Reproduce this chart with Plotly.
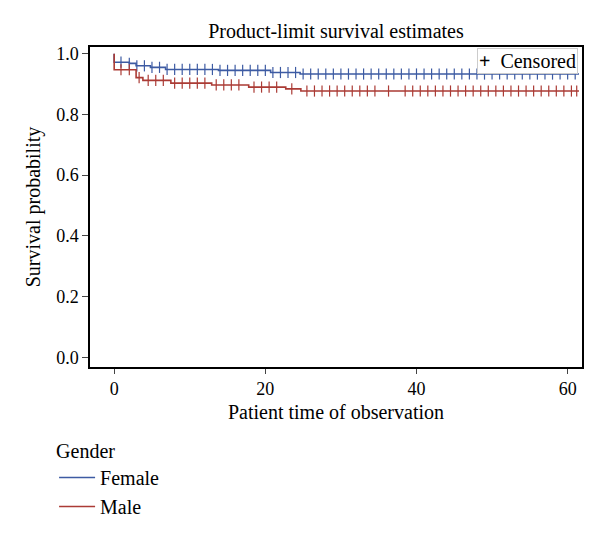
import plotly.graph_objects as go

# Kaplan-Meier step data (time, survival)
female_times = [0, 0, 2.0, 2.9, 4.8, 6.8, 13.8, 20.7, 24.6, 61.5]
female_surv = [1.0, 0.972, 0.968, 0.960, 0.955, 0.948, 0.945, 0.938, 0.933, 0.933]
male_times = [0, 0, 2.9, 3.8, 7.5, 12.9, 17.8, 22.7, 24.7, 61.5]
male_surv = [1.0, 0.947, 0.921, 0.912, 0.903, 0.897, 0.890, 0.884, 0.877, 0.877]

# censoring times
female_cens = [0.9, 2, 3, 4, 5, 6, 7, 8, 9, 10, 11, 12, 13, 14, 15, 16, 17, 18, 19, 20,
               21, 22, 23, 24, 25, 26, 27, 28, 29, 30, 31, 32, 33, 34, 35, 36, 37, 38, 39, 40,
               41, 42, 43, 44, 45, 46, 47, 48, 49, 50, 51, 52, 53, 54, 55, 56, 57, 58, 59, 60, 61]
male_cens = [0.9, 2, 3.3, 4.5, 5.5, 6.5, 8, 9, 10, 11, 12, 13.5, 14.5, 15.5, 16.5, 18.5, 19.5, 20.5,
             21.5, 23.5, 25.5, 26.5, 27.5, 28.5, 29.5, 30.5, 31.5, 32.5, 33.5, 34.5, 36.3,
             38.5, 39.5, 40.5, 41.5, 42.5, 43.5, 44.5, 45.5, 46.5, 47.5, 48.5, 49.5, 50.5,
             51.5, 52.5, 53.5, 54.5, 55.5, 56.5, 57.5, 58.5, 59.5, 60.5, 61.2]

x_ticks = [0, 20, 40, 60]
y_ticks = [0.0, 0.2, 0.4, 0.6, 0.8, 1.0]

BLUE = "#3d5ba3"
RED = "#ab3b35"
FONT = "Liberation Serif"


def surv_at(times, surv, t):
    val = surv[0]
    for ti, si in zip(times, surv):
        if ti <= t:
            val = si
    return val


fig = go.Figure()
for name, times, surv, cens, col in [
    ("Female", female_times, female_surv, female_cens, BLUE),
    ("Male", male_times, male_surv, male_cens, RED),
]:
    fig.add_trace(go.Scatter(x=times, y=surv, mode="lines", name=name,
                             line=dict(color=col, width=1.6, shape="hv")))
    fig.add_trace(go.Scatter(x=cens, y=[surv_at(times, surv, c) for c in cens],
                             mode="markers", showlegend=False, hoverinfo="skip",
                             marker=dict(symbol="line-ns-open", size=8, color=col,
                                         line=dict(color=col, width=1.2))))

fig.add_annotation(text="<b>+</b>\u00a0 Censored", xref="paper", yref="paper",
                   x=0.992, y=0.997, xanchor="right", yanchor="top", showarrow=False,
                   font=dict(size=20, family=FONT, color="black"),
                   bordercolor="#cccccc", borderwidth=1, borderpad=1, bgcolor="white")

fig.update_layout(
    width=592, height=530,
    margin=dict(l=82, r=18, t=39, b=171, autoexpand=False),
    paper_bgcolor="white", plot_bgcolor="white",
    font=dict(family=FONT, size=18, color="black"),
    title=dict(text="Product-limit survival estimates", x=0.5, xref="paper",
               y=1 - 23 / 530, yanchor="middle", font=dict(size=20)),
    xaxis=dict(range=[-3.2, 61.9], tickvals=x_ticks, ticks="outside", ticklen=5,
               showgrid=False, zeroline=False, showline=True, linecolor="black",
               linewidth=1.5, mirror=True, tickfont=dict(size=18),
               title=dict(text="Patient time of observation", font=dict(size=20), standoff=7)),
    yaxis=dict(range=[-0.032, 1.022], tickvals=y_ticks, tickformat=".1f", ticks="outside",
               ticklen=6, showgrid=False, zeroline=False, showline=True, linecolor="black",
               linewidth=1.5, mirror=True, tickfont=dict(size=18),
               title=dict(text="Survival probability", font=dict(size=20), standoff=10)),
    showlegend=True,
    legend=dict(title=dict(text="Gender", font=dict(size=20)), x=-0.073, y=0.200,
                yref="container", xanchor="left", yanchor="top", font=dict(size=20),
                bgcolor="rgba(0,0,0,0)", tracegroupgap=0, itemwidth=36),
)

fig.write_html("out.html")
